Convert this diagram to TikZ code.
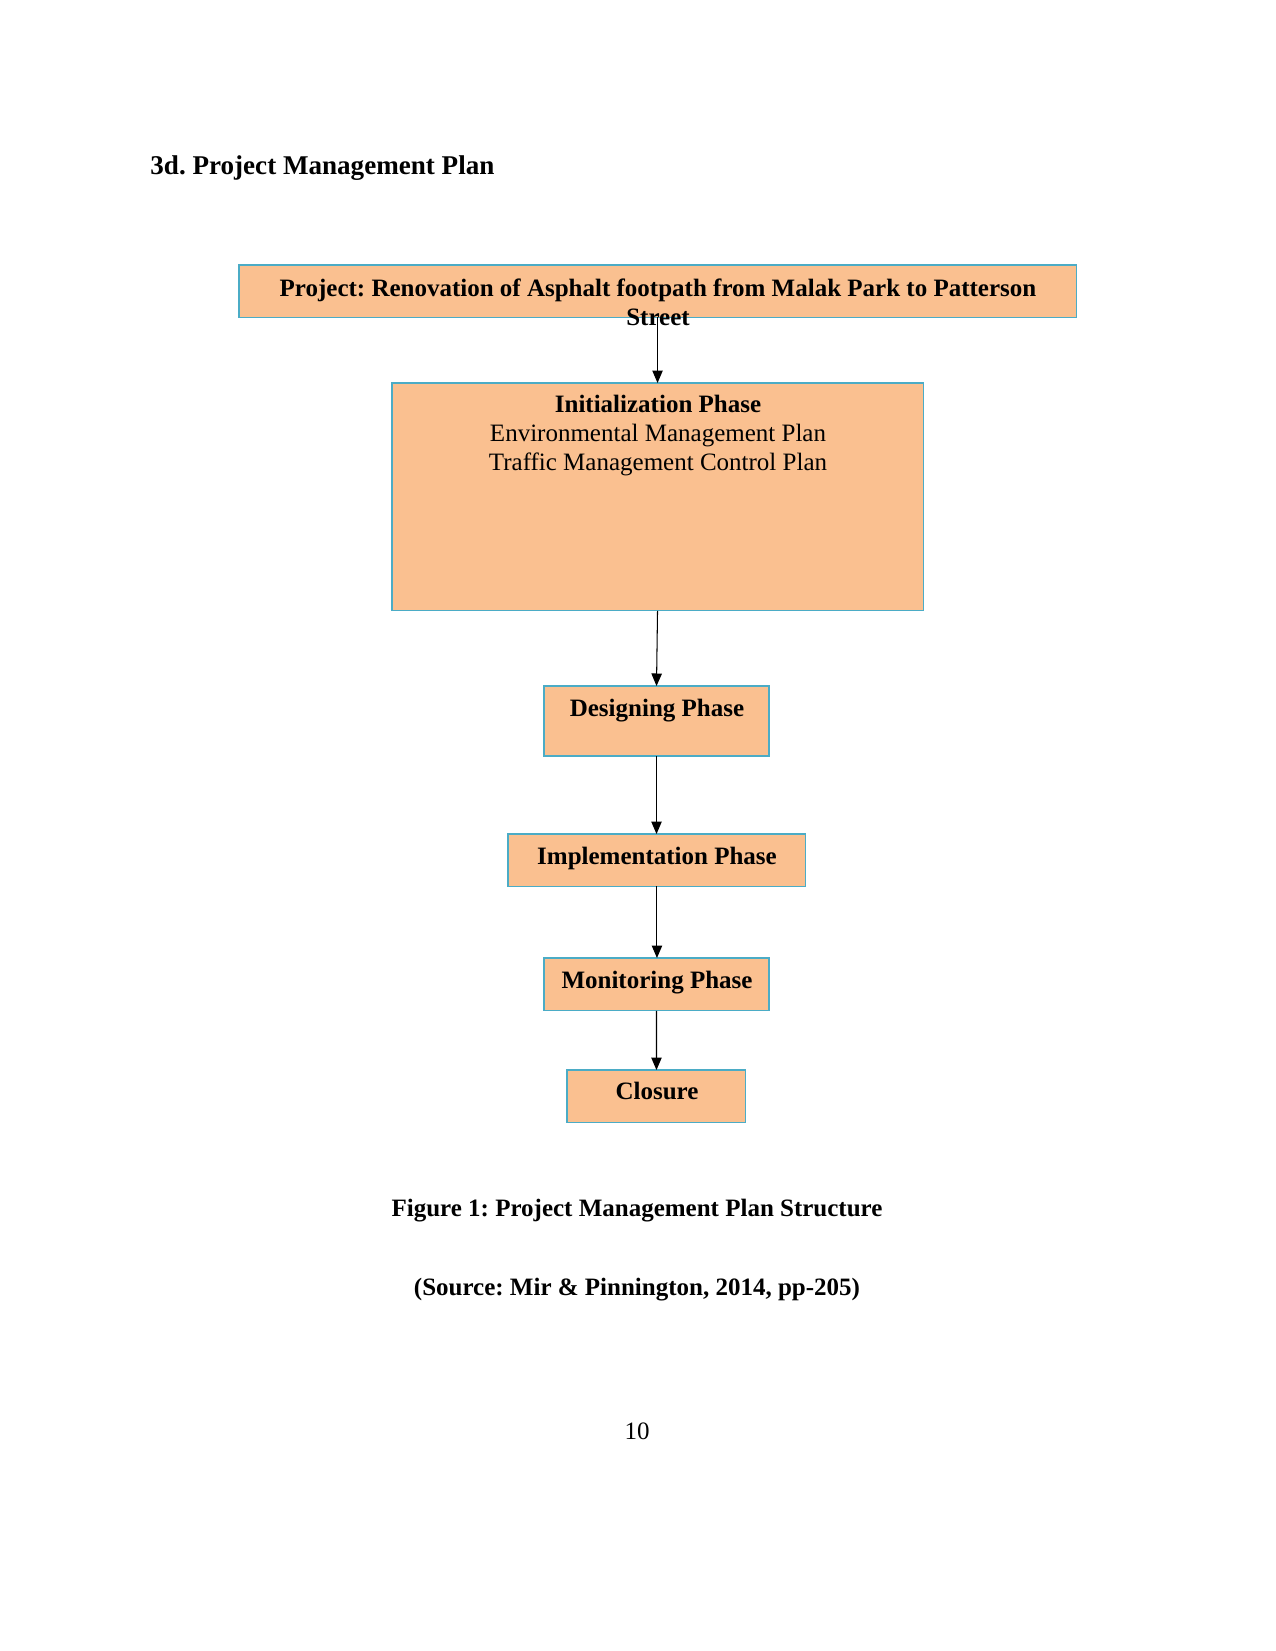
\documentclass[tikz,border=0pt]{standalone}
\usepackage{fontspec}
\setmainfont{Liberation Serif}
\usetikzlibrary{arrows.meta}
\definecolor{boxfill}{RGB}{250,192,144}
\definecolor{boxline}{RGB}{75,172,198}
\frenchspacing
\begin{document}
\begin{tikzpicture}[x=0.48pt,y=-0.48pt,
  phase/.style={draw=boxline,fill=boxfill,line width=0.5pt,inner sep=0pt,outer sep=0pt,anchor=north west},
  txt/.style={anchor=base,inner sep=0pt,font=\fontsize{12}{14}\selectfont},
  btxt/.style={txt,font=\fontsize{12}{14}\selectfont\bfseries},
  conn/.style={line width=0.5pt,-{Triangle[length=6pt,width=5pt]}}]
\useasboundingbox (0,0) rectangle (1275,1651);
\node[txt,font=\fontsize{13}{15}\selectfont\bfseries,anchor=base west] (head) at (150,175) {3d. Project Management Plan};
% boxes
\node[phase,minimum width=402.2pt,minimum height=25pt] (top) at (239,265) {};
\node[phase,minimum width=254.9pt,minimum height=109.4pt] (init) at (392,383) {};
\node[phase,minimum width=108pt,minimum height=33.6pt] (design) at (544,686) {};
\node[phase,minimum width=143pt,minimum height=25pt] (impl) at (508,834) {};
\node[phase,minimum width=108pt,minimum height=25.4pt] (mon) at (544,958) {};
\node[phase,minimum width=85.9pt,minimum height=25pt] (clos) at (567,1070) {};
% texts
\node[btxt] (topA) at (658,296) {Project: Renovation of Asphalt footpath from Malak Park to Patterson};
\node[btxt] (topB) at (658,325) {Street};
\node[btxt] (initA) at (658,412) {Initialization Phase};
\node[txt] (initB) at (658,441) {Environmental Management Plan};
\node[txt] (initC) at (658,470) {Traffic Management Control Plan};
\node[btxt] (designT) at (657,716) {Designing Phase};
\node[btxt] (implT) at (657,864) {Implementation Phase};
\node[btxt] (monT) at (657,988) {Monitoring Phase};
\node[btxt] (closT) at (657,1099) {Closure};
% connectors
\draw[conn] (top.south -| init.north) -- (init.north);
\draw[conn] (init.south) -- (design.north);
\draw[conn] (design.south) -- (impl.north -| design.south);
\draw[conn] (impl.south) -- (mon.north -| impl.south);
\draw[conn] (mon.south) -- (clos.north);
% captions
\node[btxt] (cap) at (637,1216) {Figure 1: Project Management Plan Structure};
\node[btxt] (src) at (637,1295) {(Source: Mir \& Pinnington, 2014, pp-205)};
\node[txt] (pg) at (637,1439) {10};
\end{tikzpicture}
\end{document}
